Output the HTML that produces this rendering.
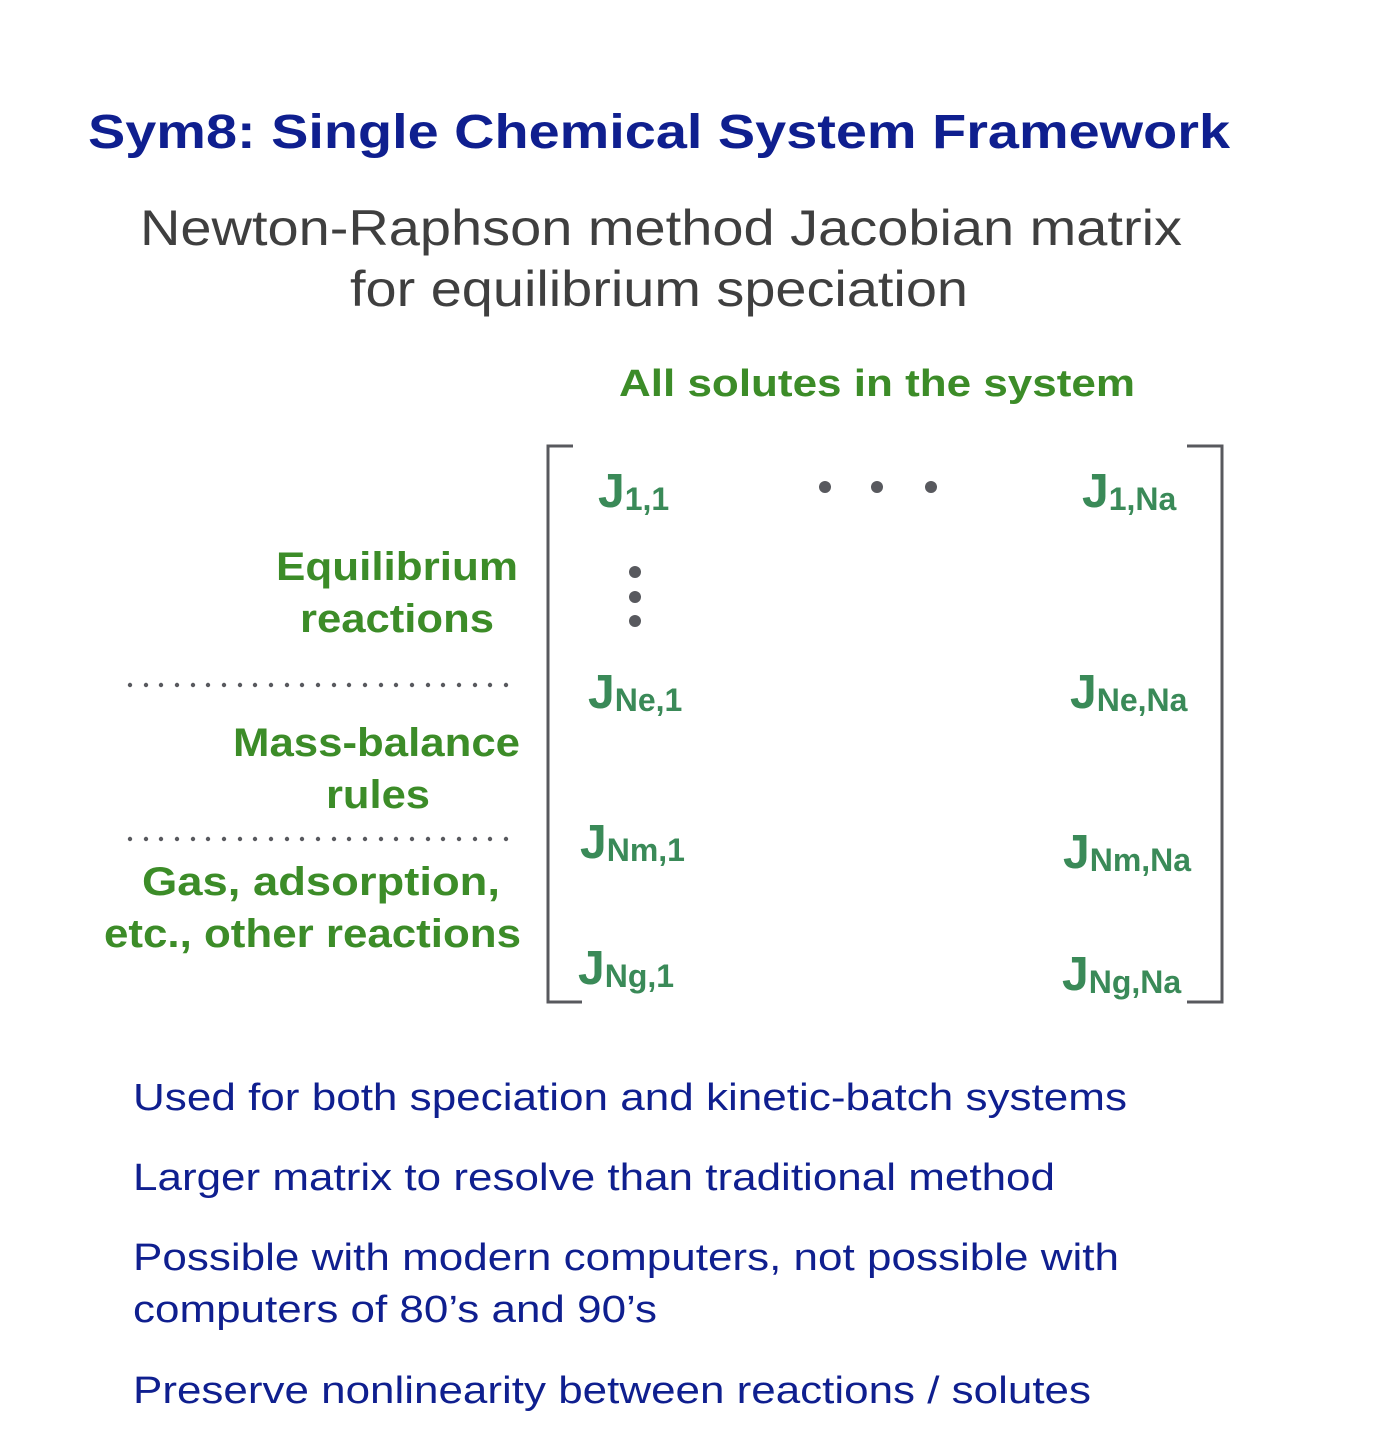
<!DOCTYPE html>
<html><head><meta charset="utf-8"><style>
html,body{margin:0;padding:0;background:#fff;}
svg{display:block;}
</style></head><body>
<svg width="1388" height="1448" viewBox="0 0 1388 1448" xmlns="http://www.w3.org/2000/svg" font-family="Liberation Sans, Arial, sans-serif">
<text x="88" y="148" font-size="48" font-weight="bold" fill="#0f1f8f" textLength="1142" lengthAdjust="spacingAndGlyphs">Sym8: Single Chemical System Framework</text>
<text x="140" y="245" font-size="50" fill="#3f3f3f" textLength="1042" lengthAdjust="spacingAndGlyphs">Newton-Raphson method Jacobian matrix</text>
<text x="350" y="306" font-size="50" fill="#3f3f3f" textLength="618" lengthAdjust="spacingAndGlyphs">for equilibrium speciation</text>
<text x="619" y="396" font-size="38" font-weight="bold" fill="#3c8c28" textLength="516" lengthAdjust="spacingAndGlyphs">All solutes in the system</text>

<g font-size="40" font-weight="bold" fill="#3c8c28" lengthAdjust="spacingAndGlyphs">
<text x="276" y="580" textLength="242" lengthAdjust="spacingAndGlyphs">Equilibrium</text>
<text x="300" y="632" textLength="194" lengthAdjust="spacingAndGlyphs">reactions</text>
<text x="233" y="756" textLength="287" lengthAdjust="spacingAndGlyphs">Mass-balance</text>
<text x="326" y="808" textLength="104" lengthAdjust="spacingAndGlyphs">rules</text>
<text x="142" y="895" textLength="358" lengthAdjust="spacingAndGlyphs">Gas, adsorption,</text>
<text x="104" y="947" textLength="417" lengthAdjust="spacingAndGlyphs">etc., other reactions</text>
</g>

<g fill="#58595e">
<circle cx="825" cy="487" r="6"/><circle cx="877" cy="487" r="6"/><circle cx="931" cy="487" r="6"/>
<circle cx="635" cy="572" r="6"/><circle cx="635" cy="597" r="6"/><circle cx="635" cy="621" r="6"/>
</g>
<g fill="#58595e">
<circle cx="130" cy="685" r="2.2"/><circle cx="146" cy="685" r="2.2"/><circle cx="161" cy="685" r="2.2"/><circle cx="177" cy="685" r="2.2"/><circle cx="193" cy="685" r="2.2"/><circle cx="208" cy="685" r="2.2"/><circle cx="224" cy="685" r="2.2"/><circle cx="240" cy="685" r="2.2"/><circle cx="255" cy="685" r="2.2"/><circle cx="271" cy="685" r="2.2"/><circle cx="287" cy="685" r="2.2"/><circle cx="302" cy="685" r="2.2"/><circle cx="318" cy="685" r="2.2"/><circle cx="334" cy="685" r="2.2"/><circle cx="349" cy="685" r="2.2"/><circle cx="365" cy="685" r="2.2"/><circle cx="381" cy="685" r="2.2"/><circle cx="396" cy="685" r="2.2"/><circle cx="412" cy="685" r="2.2"/><circle cx="428" cy="685" r="2.2"/><circle cx="443" cy="685" r="2.2"/><circle cx="459" cy="685" r="2.2"/><circle cx="475" cy="685" r="2.2"/><circle cx="490" cy="685" r="2.2"/><circle cx="506" cy="685" r="2.2"/>
<circle cx="130" cy="839" r="2.2"/><circle cx="146" cy="839" r="2.2"/><circle cx="161" cy="839" r="2.2"/><circle cx="177" cy="839" r="2.2"/><circle cx="193" cy="839" r="2.2"/><circle cx="208" cy="839" r="2.2"/><circle cx="224" cy="839" r="2.2"/><circle cx="240" cy="839" r="2.2"/><circle cx="255" cy="839" r="2.2"/><circle cx="271" cy="839" r="2.2"/><circle cx="287" cy="839" r="2.2"/><circle cx="302" cy="839" r="2.2"/><circle cx="318" cy="839" r="2.2"/><circle cx="334" cy="839" r="2.2"/><circle cx="349" cy="839" r="2.2"/><circle cx="365" cy="839" r="2.2"/><circle cx="381" cy="839" r="2.2"/><circle cx="396" cy="839" r="2.2"/><circle cx="412" cy="839" r="2.2"/><circle cx="428" cy="839" r="2.2"/><circle cx="443" cy="839" r="2.2"/><circle cx="459" cy="839" r="2.2"/><circle cx="475" cy="839" r="2.2"/><circle cx="490" cy="839" r="2.2"/><circle cx="506" cy="839" r="2.2"/>
</g>

<g fill="none" stroke="#58595e" stroke-width="3">
<polyline points="573,446 548,446 548,1002 582,1002"/>
<polyline points="1187,446 1222,446 1222,1002 1187,1002"/>
</g>

<g font-weight="bold" fill="#3a8a58">
<text x="598" y="507" font-size="48">J<tspan font-size="32" dy="3">1,1</tspan></text>
<text x="1082" y="507" font-size="48">J<tspan font-size="32" dy="3">1,Na</tspan></text>
<text x="588" y="708" font-size="48">J<tspan font-size="32" dy="3">Ne,1</tspan></text>
<text x="1070" y="708" font-size="48">J<tspan font-size="32" dy="3">Ne,Na</tspan></text>
<text x="580" y="858" font-size="48">J<tspan font-size="32" dy="3">Nm,1</tspan></text>
<text x="1063" y="868" font-size="48">J<tspan font-size="32" dy="3">Nm,Na</tspan></text>
<text x="578" y="984" font-size="48">J<tspan font-size="32" dy="3">Ng,1</tspan></text>
<text x="1062" y="990" font-size="48">J<tspan font-size="32" dy="3">Ng,Na</tspan></text>
</g>

<g font-size="38" fill="#0f1f8f">
<text x="133" y="1110" textLength="994" lengthAdjust="spacingAndGlyphs">Used for both speciation and kinetic-batch systems</text>
<text x="133" y="1190" textLength="922" lengthAdjust="spacingAndGlyphs">Larger matrix to resolve than traditional method</text>
<text x="133" y="1270" textLength="986" lengthAdjust="spacingAndGlyphs">Possible with modern computers, not possible with</text>
<text x="133" y="1322" textLength="524" lengthAdjust="spacingAndGlyphs">computers of 80’s and 90’s</text>
<text x="133" y="1403" textLength="958" lengthAdjust="spacingAndGlyphs">Preserve nonlinearity between reactions / solutes</text>
</g>
</svg>
</body></html>
